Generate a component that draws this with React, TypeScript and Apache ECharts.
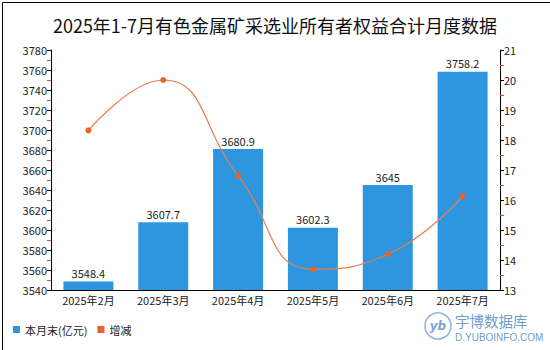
import React, { useEffect, useRef } from "react";
import * as echarts from "echarts";

const categories = ["2025年2月", "2025年3月", "2025年4月", "2025年5月", "2025年6月", "2025年7月"];
const monthEnd = [3548.4, 3607.7, 3680.9, 3602.3, 3645, 3758.2];
const change = [18.32, 20.0, 16.81, 13.69, 14.19, 16.13];
const titleText = "2025年1-7月有色金属矿采选业所有者权益合计月度数据";

export default function App() {
  const ref = useRef<HTMLDivElement>(null);
  useEffect(() => {
    document.body.style.margin = "0";
    const chart = echarts.init(ref.current!, null, { renderer: "svg" });
    const font = "'Noto Sans CJK SC', 'Noto Sans', sans-serif";
    chart.setOption({
      animation: false,
      backgroundColor: "#ffffff",
      textStyle: { fontFamily: font },
      title: {
        text: titleText,
        left: "center",
        top: 11,
        textStyle: { fontSize: 18, fontWeight: "normal", color: "#111", fontFamily: font },
      },
      legend: {
        left: 8,
        bottom: 10,
        itemWidth: 7,
        itemHeight: 7,
        itemGap: 10,
        textStyle: { fontSize: 11, color: "#222" },
        data: [
          { name: "本月末(亿元)", icon: "rect" },
          { name: "增减", icon: "rect" },
        ],
      },
      grid: { left: 51, right: 50, top: 50, bottom: 60 },
      xAxis: {
        type: "category",
        data: categories,
        axisLine: { lineStyle: { color: "#000" } },
        axisTick: { show: false },
        axisLabel: { color: "#222", fontSize: 11, margin: 4 },
      },
      yAxis: [
        {
          type: "value",
          min: 3540,
          max: 3780,
          interval: 20,
          splitLine: { show: false },
          axisLine: { show: true, lineStyle: { color: "#000" } },
          axisTick: { show: true, length: 4, lineStyle: { color: "#000" } },
          minorTick: { show: true, splitNumber: 2, length: 4, lineStyle: { color: "#e04040" } },
          axisLabel: { color: "#222", fontSize: 11, margin: 4, formatter: (v: number) => String(v) },
        },
        {
          type: "value",
          min: 13,
          max: 21,
          interval: 1,
          splitLine: { show: false },
          axisLine: { show: true, lineStyle: { color: "#000" } },
          axisTick: { show: true, length: 4, lineStyle: { color: "#000" } },
          minorTick: { show: true, splitNumber: 2, length: 4, lineStyle: { color: "#e04040" } },
          axisLabel: { color: "#222", fontSize: 11, margin: 4 },
        },
      ],
      series: [
        {
          name: "本月末(亿元)",
          type: "bar",
          data: monthEnd,
          barWidth: 50,
          itemStyle: { color: "#2e96df" },
          label: { show: true, position: "top", color: "#222", fontSize: 11, distance: 3 },
        },
        {
          name: "增减",
          type: "line",
          yAxisIndex: 1,
          data: change,
          smooth: true,
          symbol: "circle",
          symbolSize: 6,
          itemStyle: { color: "#e8632b" },
          lineStyle: { color: "#ea7d4f", width: 1.2 },
        },
      ],
      graphic: [
        {
          type: "rect",
          left: 0,
          top: 0,
          shape: { width: 549, height: 349 },
          style: { fill: "none", stroke: "#000", lineWidth: 1 },
          silent: true,
        },
        {
          type: "circle",
          x: 438,
          y: 326,
          shape: { cx: 0, cy: 0, r: 13 },
          style: { fill: "#fff", stroke: "#8fb3da", lineWidth: 1.5 },
        },
        {
          type: "text",
          x: 438,
          y: 326,
          style: { text: "yb", fill: "#7ea5cf", fontSize: 12, align: "center", verticalAlign: "middle", fontStyle: "italic", fontWeight: "bold", fontFamily: "'DejaVu Sans', sans-serif" },
        },
        {
          type: "text",
          x: 455,
          y: 320,
          style: { text: "宇博数据库", fill: "#6f9dcf", fontSize: 14.5, verticalAlign: "middle", fontFamily: font },
        },
        {
          type: "text",
          x: 455,
          y: 337,
          style: { text: "D.YUBOINFO.COM", fill: "#6f9dcf", fontSize: 10, verticalAlign: "middle", fontFamily: "'Liberation Sans', sans-serif" },
        },
      ],
    });
    return () => chart.dispose();
  }, []);
  return <div ref={ref} style={{ width: 550, height: 350, position: "fixed", left: 0, top: 0 }} />;
}
